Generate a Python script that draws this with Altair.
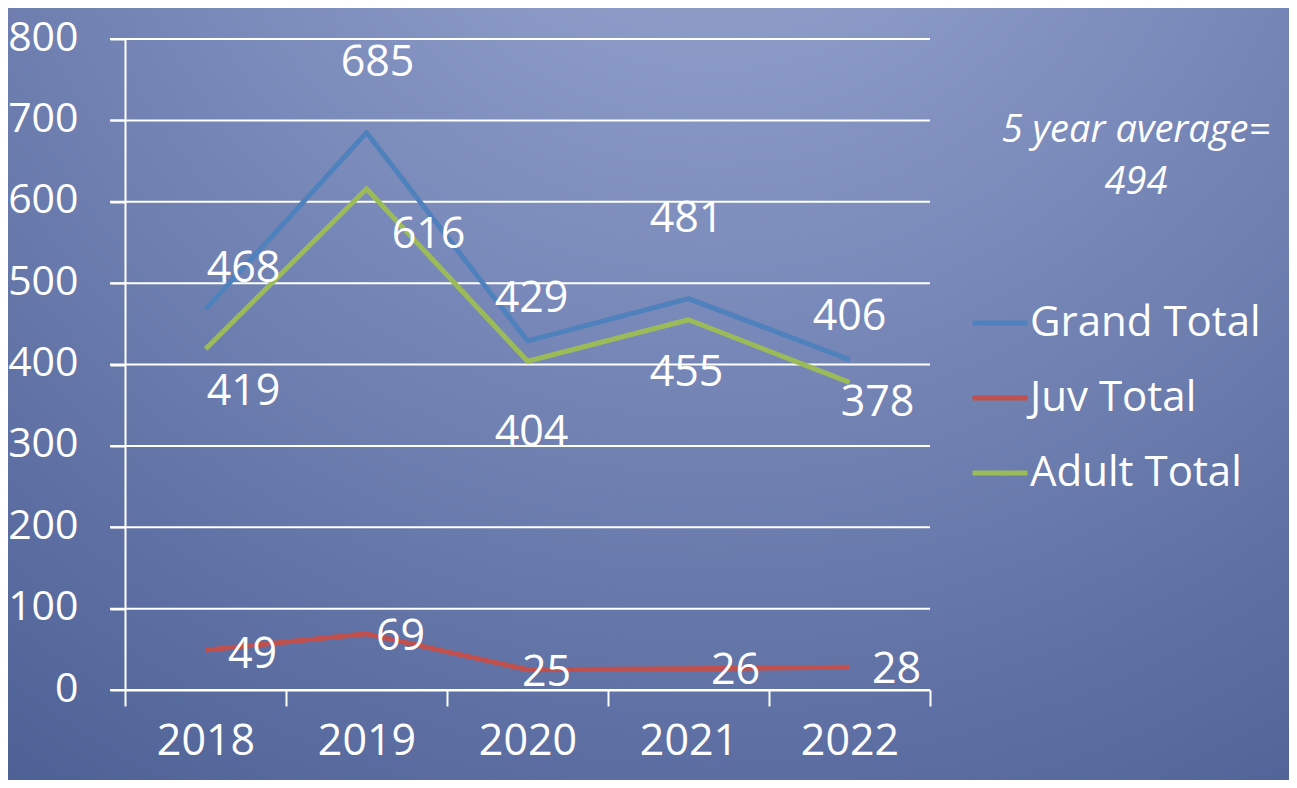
import altair as alt
import pandas as pd

# ---- data ----
years = ["2018", "2019", "2020", "2021", "2022"]
grand_total = [468, 685, 429, 481, 406]
juv_total = [49, 69, 25, 26, 28]
adult_total = [419, 616, 404, 455, 378]
series_names = ["Grand Total", "Juv Total", "Adult Total"]
y_ticks = [0, 100, 200, 300, 400, 500, 600, 700, 800]
note_lines = ["5 year average=", "494"]

# ---- styling ----
series_colors = ["#4F81BD", "#C0504D", "#9BBB59"]
FONT = "Open Sans"
W, H = 805, 651
PAD = {"left": 117, "top": 31, "right": 359, "bottom": 90}

# label offsets (dx, dy) in pixels, per series, per year
label_offsets = {
    "Grand Total": [(38, -40), (11, -70), (4, -42), (-2, -80), (0, -43)],
    "Adult Total": [(38, 43), (62, 46), (4, 72), (-2, 53), (28, 21)],
    "Juv Total": [(47, 5), (34, 3), (19, 3), (47, 2), (47, 3)],
}

rows = []
for name, vals in zip(series_names, [grand_total, juv_total, adult_total]):
    for i, (yr, v) in enumerate(zip(years, vals)):
        rows.append({"Year": yr, "Series": name, "Value": v, "idx": i})
df = pd.DataFrame(rows)

x_scale = alt.Scale(type="band", paddingInner=0, paddingOuter=0)
y_scale = alt.Scale(domain=[0, 800], nice=False, zero=True)

x_axis = alt.Axis(
    title=None, labelAngle=0, tickBand="extent", tickSize=16, tickWidth=2,
    tickColor="white", domainColor="white", domainWidth=2, grid=False,
    labelColor="white", labelFontSize=43, labelFont=FONT, labelPadding=14,
    zindex=2,
)
y_axis = alt.Axis(
    title=None, values=y_ticks, tickSize=15, tickWidth=2, tickColor="white",
    domainColor="white", domainWidth=2, grid=False, labelColor="white",
    labelFontSize=41, labelFont=FONT, labelPadding=32, labelOffset=-1,
    zindex=2,
)

gradient = alt.RadialGradient(
    gradient="radial",
    stops=[
        alt.GradientStop(color="#9dabd2", offset=0),
        alt.GradientStop(color="#7989b9", offset=0.4),
        alt.GradientStop(color="#43578d", offset=1),
    ],
    x1=0.55, y1=0.0, r1=0,
    x2=0.55, y2=0.0, r2=1.1,
)

bg = alt.Chart(pd.DataFrame({"a": [0]})).mark_rect(color=gradient).encode(
    x=alt.value(-PAD["left"]),
    x2=alt.value(W + PAD["right"]),
    y=alt.value(-PAD["top"]),
    y2=alt.value(H + PAD["bottom"]),
)

grid = alt.Chart(pd.DataFrame({"Value": y_ticks})).mark_rule(
    color="white", strokeWidth=2
).encode(
    y=alt.Y("Value:Q", scale=y_scale, axis=y_axis),
    x=alt.value(-15),
    x2=alt.value(W),
)

lines = alt.Chart(df).mark_line(strokeWidth=5, strokeJoin="round").encode(
    x=alt.X("Year:O", sort=years, scale=x_scale, axis=x_axis),
    y=alt.Y("Value:Q", scale=y_scale, axis=y_axis),
    color=alt.Color(
        "Series:N",
        scale=alt.Scale(domain=series_names, range=series_colors),
        sort=series_names,
        legend=alt.Legend(
            title=None, orient="none", legendX=845, legendY=254,
            symbolType="stroke", symbolSize=3025, symbolStrokeWidth=5,
            labelFontSize=42, labelColor="white", labelFont=FONT,
            labelLimit=400, rowPadding=24, labelOffset=0, padding=0,
        ),
    ),
    detail="Series:N",
)

label_layers = []
for name in series_names:
    for i, (dx, dy) in enumerate(label_offsets[name]):
        label_layers.append(
            alt.Chart(df).mark_text(
                color="white", fontSize=43, font=FONT, dx=dx, dy=dy,
                align="center", baseline="middle",
            ).encode(
                x=alt.X("Year:O", sort=years, scale=x_scale, axis=x_axis),
                y=alt.Y("Value:Q", scale=y_scale, axis=y_axis),
                text="Value:Q",
            ).transform_filter(
                (alt.datum.Series == name) & (alt.datum.idx == i)
            )
        )

note = alt.Chart(pd.DataFrame({"t": [note_lines]})).mark_text(
    color="white", fontSize=38, font=FONT, fontStyle="italic",
    align="center", baseline="top", lineHeight=52,
).encode(
    x=alt.value(1011),
    y=alt.value(73),
    text="t",
)

chart = alt.layer(bg, grid, lines, *label_layers, note).properties(
    width=W, height=H,
    autosize=alt.AutoSizeParams(type="none"),
    padding=PAD,
).configure_view(stroke=None).configure(background="#5a6ca0")

chart.save("out.html", embed_options={"renderer": "svg", "actions": False})
